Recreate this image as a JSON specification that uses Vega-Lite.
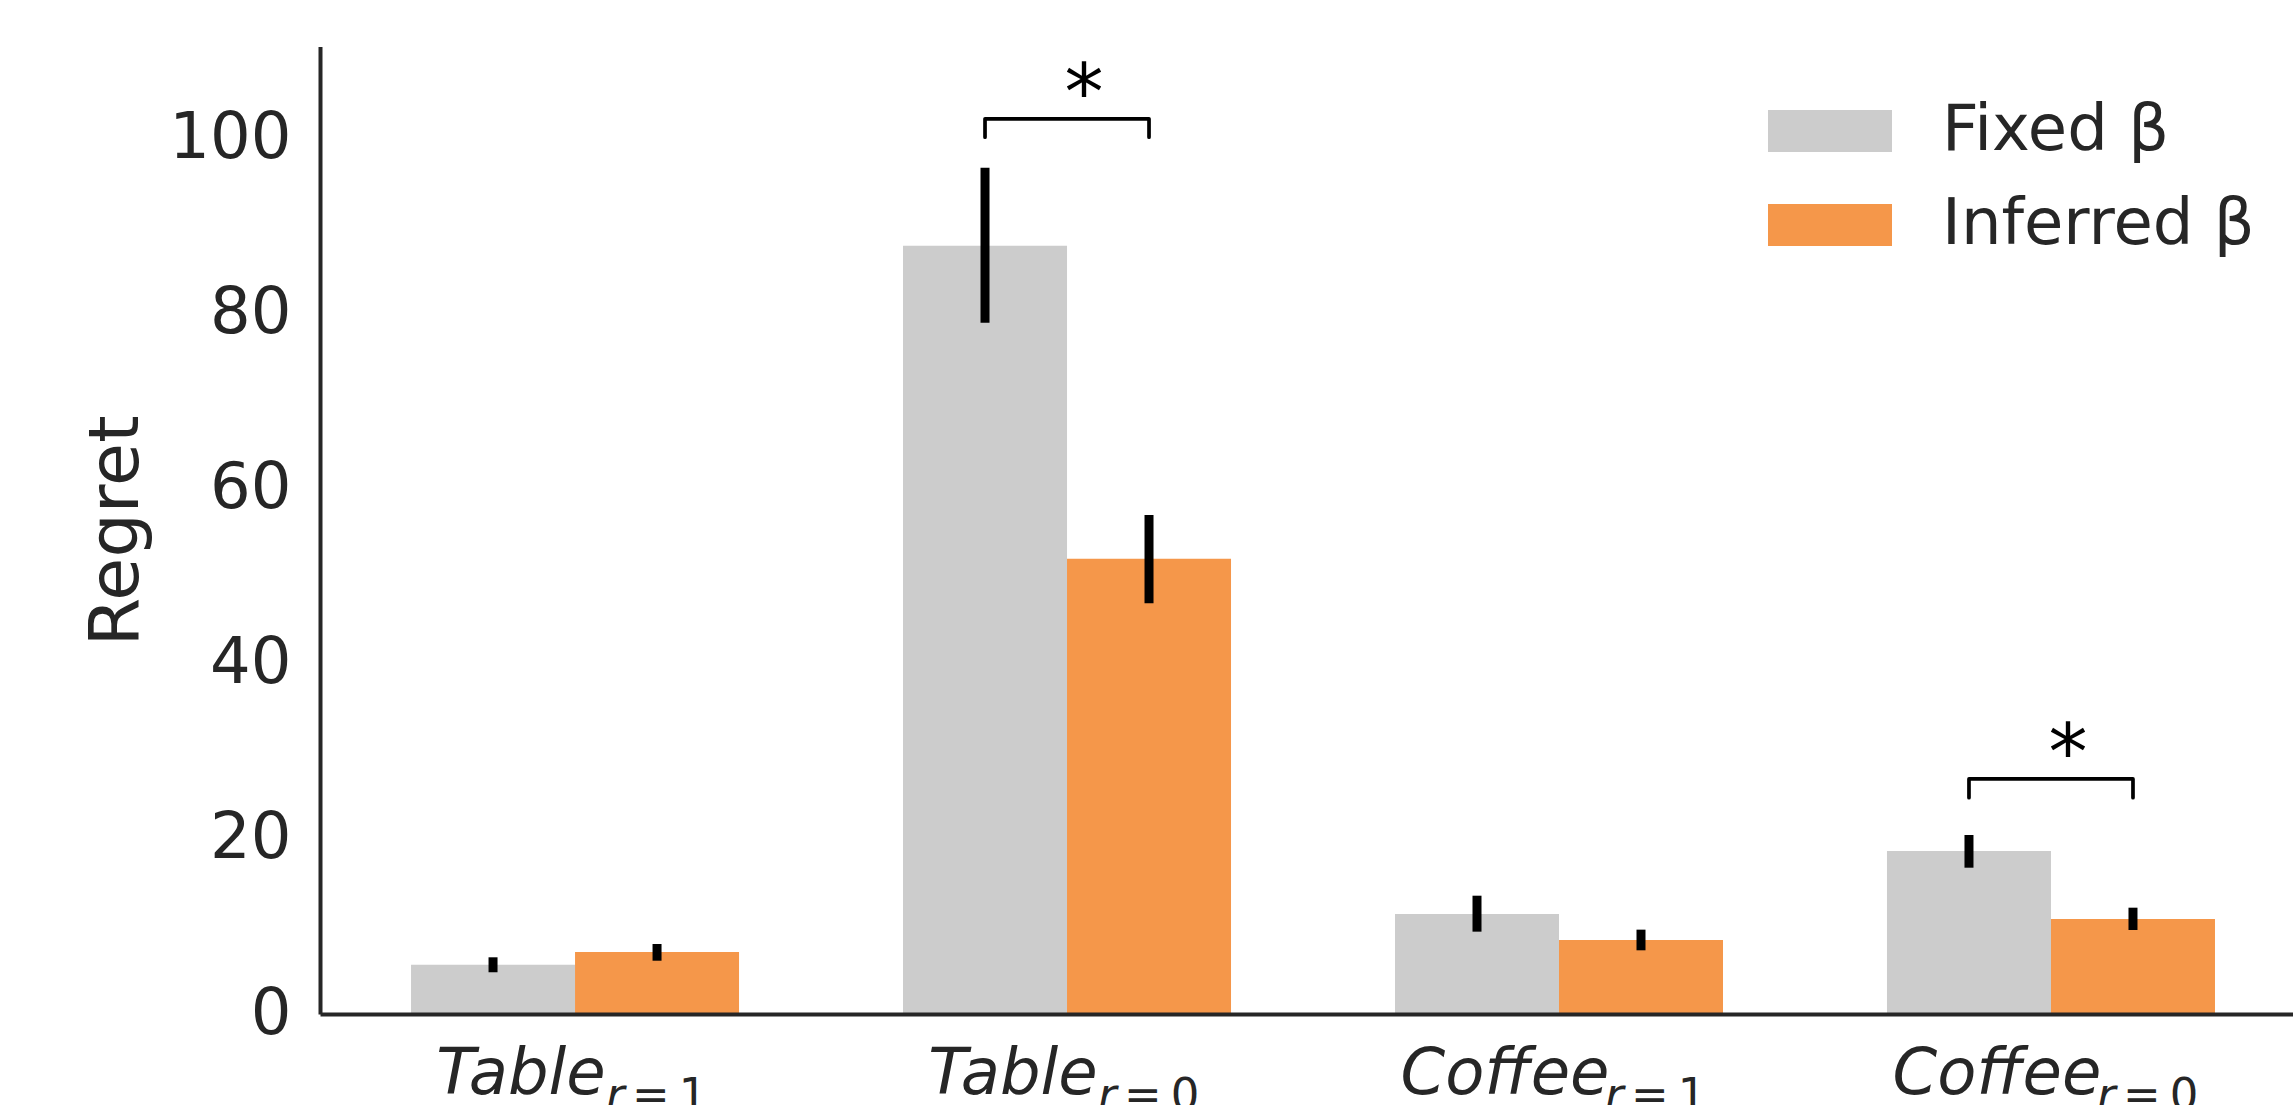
{
  "$schema": "https://vega.github.io/schema/vega-lite/v6.json",
  "width": 1973,
  "height": 967.5,
  "autosize": {"type": "none"},
  "padding": {"left": 320, "top": 46.5, "right": 0, "bottom": 91},
  "background": "white",
  "config": {"view": {"stroke": null}, "font": "DejaVu Sans"},
  "datasets": {
    "bars": [
      {"group": "Table r=1", "Method": "Fixed β", "value": 5.63, "lo": 4.77, "hi": 6.48},
      {"group": "Table r=1", "Method": "Inferred β", "value": 7.09, "lo": 6.09, "hi": 8.0},
      {"group": "Table r=0", "Method": "Fixed β", "value": 87.8, "lo": 79.0, "hi": 96.72},
      {"group": "Table r=0", "Method": "Inferred β", "value": 52.03, "lo": 46.93, "hi": 57.03},
      {"group": "Coffee r=1", "Method": "Fixed β", "value": 11.43, "lo": 9.41, "hi": 13.52},
      {"group": "Coffee r=1", "Method": "Inferred β", "value": 8.46, "lo": 7.28, "hi": 9.64},
      {"group": "Coffee r=0", "Method": "Fixed β", "value": 18.63, "lo": 16.72, "hi": 20.46},
      {"group": "Coffee r=0", "Method": "Inferred β", "value": 10.86, "lo": 9.6, "hi": 12.15}
    ],
    "brackets": [
      {"group": "Table r=0", "Method": "Fixed β", "y": 100.2, "k": 1},
      {"group": "Table r=0", "Method": "Fixed β", "y": 102.3, "k": 2},
      {"group": "Table r=0", "Method": "Inferred β", "y": 102.3, "k": 3},
      {"group": "Table r=0", "Method": "Inferred β", "y": 100.2, "k": 4},
      {"group": "Coffee r=0", "Method": "Fixed β", "y": 24.72, "k": 1},
      {"group": "Coffee r=0", "Method": "Fixed β", "y": 26.86, "k": 2},
      {"group": "Coffee r=0", "Method": "Inferred β", "y": 26.86, "k": 3},
      {"group": "Coffee r=0", "Method": "Inferred β", "y": 24.72, "k": 4}
    ],
    "stars": [
      {"group": "Table r=0", "mark": "*", "y": 102.3},
      {"group": "Coffee r=0", "mark": "*", "y": 26.86}
    ],
    "subs": [
      {"group": "Table r=1", "word": "Table", "var": "r", "rel": "=\u20091"},
      {"group": "Table r=0", "word": "Table", "var": "r", "rel": "=\u20090"},
      {"group": "Coffee r=1", "word": "Coffee", "var": "r", "rel": "=\u20091"},
      {"group": "Coffee r=0", "word": "Coffee", "var": "r", "rel": "=\u20090"}
    ]
  },
  "encoding": {
    "x": {
      "field": "group",
      "type": "nominal",
      "sort": ["Table r=1", "Table r=0", "Coffee r=1", "Coffee r=0"],
      "scale": {"paddingInner": 0.3333, "paddingOuter": 0.1718, "align": 0.5385},
      "axis": {
        "title": null,
        "labelExpr": "split(datum.label, ' ')[0]",
        "labelFont": "DejaVu Sans",
        "labelFontStyle": "italic",
        "labelFontSize": 64,
        "labelColor": "#262626",
        "labelBaseline": "alphabetic",
        "labelPadding": 79,
        "labelOffset": -54,
        "labelAngle": 0,
        "labelLimit": 0,
        "labelOverlap": false,
        "labelBound": false,
        "ticks": false,
        "tickSize": 0,
        "domainColor": "#262626",
        "domainWidth": 4,
        "grid": false,
        "zindex": 1
      }
    }
  },
  "layer": [
    {
      "data": {"name": "bars"},
      "mark": {"type": "bar"},
      "encoding": {
        "xOffset": {"field": "Method", "type": "nominal", "scale": {"paddingInner": 0, "paddingOuter": 0}},
        "y": {
          "field": "value",
          "type": "quantitative",
          "title": "Regret",
          "scale": {"domain": [0, 110.57], "nice": false},
          "axis": {
            "values": [0, 20, 40, 60, 80, 100],
            "labelFontSize": 64,
            "labelColor": "#262626",
            "labelPadding": 29,
            "ticks": false,
            "tickSize": 0,
            "grid": false,
            "domainColor": "#262626",
            "domainWidth": 4,
            "titleFontSize": 70,
            "titleFontWeight": "normal",
            "titleColor": "#262626",
            "titlePadding": 16,
            "zindex": 1
          }
        },
        "color": {
          "field": "Method",
          "type": "nominal",
          "scale": {"domain": ["Fixed β", "Inferred β"], "range": ["#cccccc", "#f5974a"]},
          "legend": {
            "title": null,
            "orient": "none",
            "legendX": 1448,
            "legendY": 22.5,
            "padding": 0,
            "symbolType": "M-1,-0.339L1,-0.339L1,0.339L-1,0.339Z",
            "symbolSize": 15376,
            "symbolStrokeWidth": 0,
            "labelFontSize": 64,
            "labelColor": "#262626",
            "labelOffset": 50,
            "labelLimit": 0,
            "rowPadding": -29
          }
        }
      }
    },
    {
      "data": {"name": "bars"},
      "mark": {"type": "rule", "color": "black", "strokeWidth": 9, "strokeCap": "butt"},
      "encoding": {
        "xOffset": {"field": "Method", "type": "nominal"},
        "y": {"field": "lo", "type": "quantitative", "title": "Regret", "scale": {"domain": [0, 110.57], "nice": false}},
        "y2": {"field": "hi"}
      }
    },
    {
      "data": {"name": "brackets"},
      "mark": {"type": "line", "color": "black", "strokeWidth": 3.7, "strokeCap": "round", "strokeJoin": "round"},
      "encoding": {
        "xOffset": {"field": "Method", "type": "nominal"},
        "y": {"field": "y", "type": "quantitative", "title": "Regret", "scale": {"domain": [0, 110.57], "nice": false}},
        "order": {"field": "k", "type": "quantitative"},
        "detail": {"field": "group", "type": "nominal"}
      }
    },
    {
      "data": {"name": "stars"},
      "mark": {"type": "text", "fontSize": 78, "color": "black", "align": "center", "baseline": "alphabetic", "dx": 17},
      "encoding": {
        "y": {"field": "y", "type": "quantitative", "title": "Regret", "scale": {"domain": [0, 110.57], "nice": false}},
        "text": {"field": "mark"}
      }
    },
    {
      "data": {"name": "subs"},
      "mark": {"type": "text", "fontSize": 45, "fontStyle": "italic", "color": "#262626", "align": "left", "baseline": "alphabetic", "dx": {"expr": "datum.word === 'Table' ? 31 : 46"}, "dy": 95.5},
      "encoding": {
        "y": {"value": "height"},
        "text": {"field": "var"}
      }
    },
    {
      "data": {"name": "subs"},
      "mark": {"type": "text", "fontSize": 45, "color": "#262626", "align": "left", "baseline": "alphabetic", "dx": {"expr": "datum.word === 'Table' ? 57 : 72"}, "dy": 95.5},
      "encoding": {
        "y": {"value": "height"},
        "text": {"field": "rel"}
      }
    }
  ]
}
